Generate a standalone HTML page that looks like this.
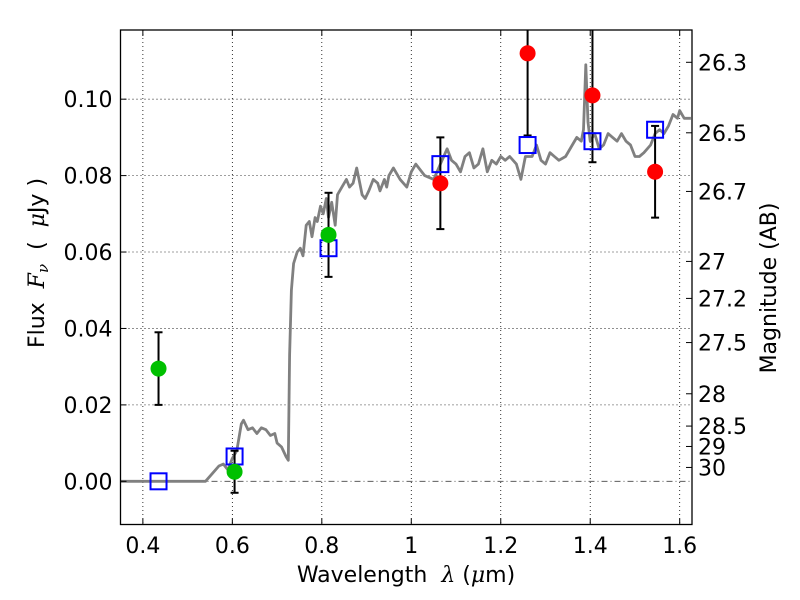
<!DOCTYPE html>
<html><head><meta charset="utf-8"><style>
html,body{margin:0;padding:0;background:#fff;}
svg{display:block;font-family:"DejaVu Sans","Liberation Sans",sans-serif;}
</style></head><body>
<svg id="chart" width="800" height="600" viewBox="0 0 800 600" xmlns="http://www.w3.org/2000/svg"></svg>
<script>
const xTicks=[0.4,0.6,0.8,1.0,1.2,1.4,1.6];
const xTickLabels=["0.4","0.6","0.8","1","1.2","1.4","1.6"];
const yTicks=[0,0.02,0.04,0.06,0.08,0.10];
const yTickLabels=["0.00","0.02","0.04","0.06","0.08","0.10"];
const magTicks=[26.3,26.5,26.7,27,27.2,27.5,28,28.5,29,30];
const magLabels=["26.3","26.5","26.7","27","27.2","27.5","28","28.5","29","30"];
const specWave=[0.35,0.54,0.555,0.57,0.58,0.59,0.60,0.61,0.62,0.625,0.635,0.645,0.655,0.665,0.675,0.685,0.695,0.70,0.71,0.72,0.725,0.728,0.732,0.737,0.745,0.752,0.758,0.765,0.772,0.778,0.785,0.79,0.797,0.803,0.81,0.815,0.822,0.83,0.835,0.845,0.855,0.862,0.87,0.878,0.885,0.89,0.897,0.905,0.915,0.925,0.93,0.94,0.945,0.95,0.96,0.975,0.99,1.0,1.01,1.03,1.05,1.065,1.08,1.09,1.1,1.11,1.12,1.13,1.14,1.15,1.16,1.17,1.18,1.19,1.2,1.21,1.22,1.235,1.245,1.255,1.27,1.28,1.29,1.3,1.31,1.32,1.33,1.345,1.36,1.37,1.38,1.385,1.39,1.395,1.40,1.41,1.42,1.43,1.44,1.45,1.46,1.47,1.48,1.49,1.50,1.51,1.52,1.535,1.545,1.555,1.565,1.575,1.585,1.595,1.60,1.61,1.625];
const specFlux=[0,0,0.002,0.004,0.0045,0.003,0.006,0.008,0.015,0.016,0.0135,0.014,0.0125,0.014,0.0135,0.012,0.0125,0.010,0.009,0.0065,0.0055,0.033,0.05,0.057,0.06,0.061,0.059,0.067,0.068,0.064,0.069,0.068,0.072,0.07,0.074,0.069,0.073,0.067,0.075,0.077,0.079,0.077,0.078,0.082,0.078,0.075,0.074,0.076,0.079,0.078,0.076,0.079,0.077,0.080,0.082,0.079,0.077,0.081,0.083,0.080,0.079,0.083,0.087,0.084,0.083,0.081,0.085,0.086,0.082,0.083,0.087,0.081,0.084,0.083,0.085,0.084,0.085,0.083,0.079,0.085,0.085,0.088,0.084,0.083,0.086,0.085,0.084,0.085,0.088,0.090,0.089,0.092,0.109,0.094,0.089,0.091,0.087,0.088,0.091,0.090,0.089,0.091,0.089,0.088,0.085,0.085,0.086,0.088,0.091,0.092,0.091,0.093,0.096,0.095,0.097,0.095,0.095];
const greenWave=[0.435,0.605,0.815];
const greenFlux=[0.0295,0.0025,0.0645];
const greenErr=[0.0095,0.0055,0.011];
const redWave=[1.065,1.26,1.405,1.545];
const redFlux=[0.078,0.112,0.101,0.081];
const redErr=[0.012,0.0215,0.0175,0.012];
const modelWave=[0.435,0.605,0.815,1.065,1.26,1.405,1.545];
const modelFlux=[0.0,0.0065,0.061,0.083,0.088,0.089,0.092];

const L=120.5,R=692,T=30,B=524.5;
const xMin=0.35,xMax=1.6275,yMin=-0.0113,yMax=0.1181;
const X=v=>L+(v-xMin)/(xMax-xMin)*(R-L);
const Y=v=>B-(v-yMin)/(yMax-yMin)*(B-T);
const svg=document.getElementById('chart');
const NS='http://www.w3.org/2000/svg';
function mk(tag,attrs,parent){const e=document.createElementNS(NS,tag);for(const k in attrs)e.setAttribute(k,attrs[k]);(parent||svg).appendChild(e);return e;}

const grid=mk('g',{});


xTicks.forEach(v=>{mk('line',{x1:X(v),x2:X(v),y1:T,y2:B,stroke:'#000','stroke-width':0.8,'stroke-dasharray':'1,3'},grid);});
yTicks.forEach(v=>{if(v!==0)mk('line',{x1:L,x2:R,y1:Y(v),y2:Y(v),stroke:'#000','stroke-width':0.8,'stroke-dasharray':'1,3'},grid);});
const zl=mk('line',{x1:L,x2:R,y1:Y(0),y2:Y(0),stroke:'#444','stroke-width':0.8,'stroke-dasharray':'6,3,1,3'});



let d='';specWave.forEach((w,i)=>{d+=(i?'L':'M')+X(w).toFixed(1)+','+Y(specFlux[i]).toFixed(1);});
const sp=mk('path',{d:d,fill:'none',stroke:'#808080','stroke-width':2.8,'stroke-linejoin':'round'});



const cp=mk('clipPath',{id:'pc'});
mk('rect',{x:L,y:T,width:R-L,height:B-T},cp);

function errbar(w,f,e,g){
  const x=X(w);
  mk('line',{x1:x,x2:x,y1:Y(f-e),y2:Y(f+e),stroke:'#000','stroke-width':2},g);
  mk('line',{x1:x-4,x2:x+4,y1:Y(f-e),y2:Y(f-e),stroke:'#000','stroke-width':2},g);
  mk('line',{x1:x-4,x2:x+4,y1:Y(f+e),y2:Y(f+e),stroke:'#000','stroke-width':2},g);
}
const eg=mk('g',{'clip-path':'url(#pc)'});


greenWave.forEach((w,i)=>errbar(w,greenFlux[i],greenErr[i],eg));
redWave.forEach((w,i)=>errbar(w,redFlux[i],redErr[i],eg));

modelWave.forEach((w,i)=>{
  const r=mk('rect',{x:X(w)-8,y:Y(modelFlux[i])-8,width:16,height:16,fill:'none',stroke:'#0000ff','stroke-width':2});
  
  
});
greenWave.forEach((w,i)=>{
  const c=mk('circle',{cx:X(w),cy:Y(greenFlux[i]),r:8,fill:'#00c000'});
  
  
});
redWave.forEach((w,i)=>{
  const c=mk('circle',{cx:X(w),cy:Y(redFlux[i]),r:8,fill:'#ff0000'});
  
  
});

const fr=mk('rect',{x:L,y:T,width:R-L,height:B-T,fill:'none',stroke:'#000','stroke-width':1.3});



const FS=22;
const xg=mk('g',{});


xTicks.forEach((v,i)=>{
  mk('line',{x1:X(v),x2:X(v),y1:B,y2:B-6,stroke:'#000'},xg);
  mk('line',{x1:X(v),x2:X(v),y1:T,y2:T+6,stroke:'#000'},xg);
  const t=mk('text',{x:X(v),y:553,'font-size':FS,'text-anchor':'middle'},xg);t.textContent=xTickLabels[i];
});
const yg=mk('g',{});


yTicks.forEach((v,i)=>{
  mk('line',{x1:L,x2:L+6,y1:Y(v),y2:Y(v),stroke:'#000'},yg);
  const t=mk('text',{x:L-8,y:Y(v)+8,'font-size':FS,'text-anchor':'end'},yg);t.textContent=yTickLabels[i];
});
const mg=mk('g',{});


magTicks.forEach((m,i)=>{
  const y=Y(Math.pow(10,(23.9-m)/2.5));
  mk('line',{x1:R-6,x2:R,y1:y,y2:y,stroke:'#000'},mg);
  const t=mk('text',{x:R+6,y:y+8,'font-size':FS},mg);t.textContent=magLabels[i];
});
</script>
<svg style="position:absolute;left:0;top:0" width="800" height="600">
<text x="406" y="582" font-size="22" text-anchor="middle" font-family="DejaVu Sans, sans-serif" xml:space="preserve">Wavelength  <tspan font-style="italic" font-family="DejaVu Serif, serif">λ</tspan> (<tspan font-style="italic" font-family="DejaVu Serif, serif">μ</tspan>m)</text>
<text transform="translate(44,263) rotate(-90)" font-size="22" text-anchor="middle" font-family="DejaVu Sans, sans-serif" xml:space="preserve">Flux  <tspan font-style="italic" font-family="DejaVu Serif, serif">F<tspan font-size="15" dy="4">ν</tspan></tspan><tspan dy="-4">  (  </tspan><tspan font-style="italic" font-family="DejaVu Serif, serif">μ</tspan>Jy )</text>
<text transform="translate(776,288) rotate(-90)" font-size="22" text-anchor="middle" font-family="DejaVu Sans, sans-serif">Magnitude (AB)</text>
</svg>
</body></html>
